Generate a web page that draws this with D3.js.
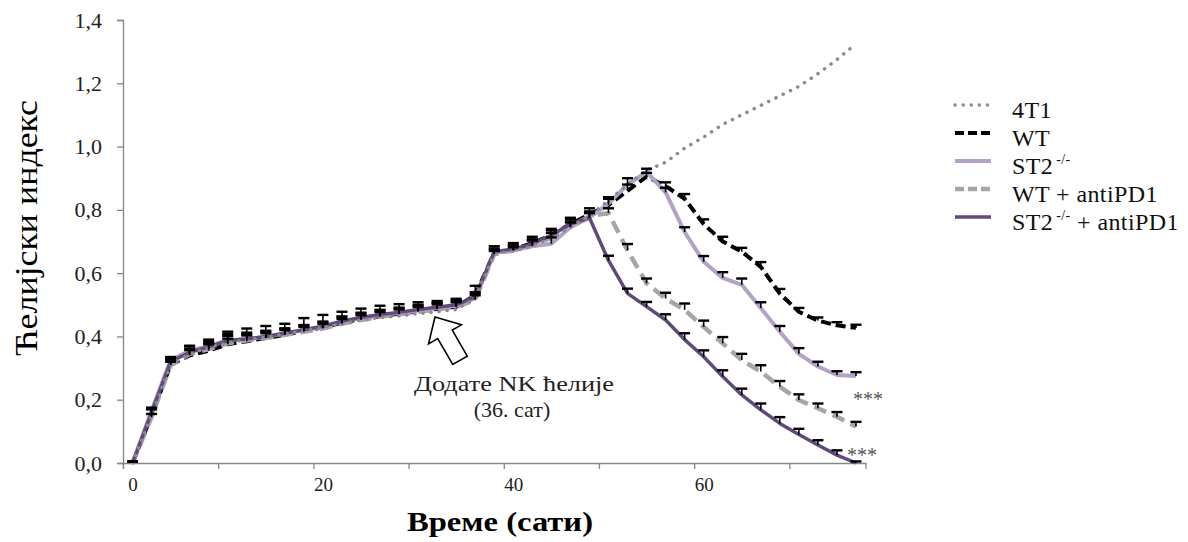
<!DOCTYPE html>
<html>
<head>
<meta charset="utf-8">
<script src="https://cdn.jsdelivr.net/npm/d3@7"></script>
<style>
  body { margin: 0; background: #fff; }
  text { font-family: "Liberation Serif", "DejaVu Serif", serif; }
</style>
</head>
<body>
<svg id="chart" width="1188" height="542"></svg>
<script>
// time points (hours)
var hours = [0, 2, 4, 6, 8, 10, 12, 14, 16, 18, 20, 22, 24, 26, 28, 30, 32, 34, 36, 38,
             40, 42, 44, 46, 48, 50, 52, 54, 56, 58, 60, 62, 64, 66, 68, 70, 72, 74, 76];

// cell index
var t4T1 = [0, 0.15, 0.31, 0.345, 0.365, 0.38, 0.39, 0.398, 0.407, 0.418, 0.428, 0.44, 0.452, 0.46, 0.465, 0.472, 0.478, 0.485, 0.52, 0.66,
            0.67, 0.685, 0.71, 0.745, 0.78, 0.83, 0.88, 0.925, 0.95, 0.995, 1.03, 1.07, 1.10, 1.13, 1.16, 1.19, 1.23, 1.275, 1.325];

var wt = [0, 0.15, 0.31, 0.34, 0.355, 0.375, 0.385, 0.395, 0.405, 0.418, 0.428, 0.443, 0.455, 0.464, 0.472, 0.48, 0.487, 0.494, 0.53, 0.665,
          0.675, 0.695, 0.72, 0.755, 0.785, 0.815, 0.86, 0.905, 0.875, 0.835, 0.755, 0.70, 0.668, 0.62, 0.535, 0.478, 0.45, 0.435, 0.427];
var wtErr = [0.005, 0.02, 0.015, 0.03, 0.035, 0.04, 0.04, 0.038, 0.035, 0.04, 0.04, 0.035, 0.033, 0.033, 0.03, 0.028, 0.025, 0.025, 0.03, 0.02,
             0.02, 0.02, 0.02, 0.02, 0.02, 0.02, 0.02, 0.012, 0.012, 0.015, 0.015, 0.015, 0.012, 0.015, 0.015, 0.012, 0.01, 0.01, 0.01];

var st2 = [0, 0.165, 0.325, 0.355, 0.37, 0.388, 0.392, 0.398, 0.41, 0.42, 0.43, 0.447, 0.458, 0.467, 0.474, 0.482, 0.49, 0.497, 0.52, 0.665,
           0.672, 0.685, 0.693, 0.745, 0.775, 0.82, 0.88, 0.92, 0.855, 0.73, 0.636, 0.585, 0.563, 0.49, 0.415, 0.345, 0.305, 0.278, 0.275];
var st2Err = [0.005, 0.01, 0.01, 0.015, 0.015, 0.02, 0.02, 0.02, 0.015, 0.015, 0.015, 0.015, 0.015, 0.015, 0.015, 0.015, 0.015, 0.015, 0.015, 0.01,
              0.015, 0.02, 0.02, 0.015, 0.015, 0.02, 0.02, 0.01, 0.015, 0.015, 0.018, 0.018, 0.02, 0.018, 0.018, 0.018, 0.015, 0.012, 0.012];

var wtAnti = [0, 0.145, 0.31, 0.345, 0.36, 0.378, 0.388, 0.395, 0.405, 0.415, 0.425, 0.44, 0.452, 0.462, 0.47, 0.478, 0.486, 0.493, 0.515, 0.66,
              0.672, 0.688, 0.712, 0.748, 0.78, 0.79, 0.672, 0.568, 0.52, 0.484, 0.43, 0.378, 0.325, 0.289, 0.241, 0.199, 0.173, 0.146, 0.115];
var wtAntiErr = [0.005, 0.01, 0.01, 0.012, 0.015, 0.015, 0.015, 0.015, 0.015, 0.015, 0.015, 0.015, 0.015, 0.015, 0.015, 0.015, 0.015, 0.015, 0.015, 0.01,
                 0.01, 0.015, 0.015, 0.015, 0.015, 0.015, 0.02, 0.015, 0.018, 0.02, 0.02, 0.02, 0.02, 0.02, 0.018, 0.018, 0.015, 0.015, 0.015];

var st2Anti = [0, 0.16, 0.32, 0.35, 0.367, 0.387, 0.392, 0.4, 0.41, 0.421, 0.432, 0.448, 0.46, 0.469, 0.476, 0.485, 0.492, 0.5, 0.525, 0.668,
               0.676, 0.692, 0.72, 0.755, 0.775, 0.64, 0.536, 0.494, 0.452, 0.39, 0.336, 0.273, 0.215, 0.168, 0.125, 0.09, 0.057, 0.025, 0];
var st2AntiErr = [0.005, 0.01, 0.01, 0.012, 0.012, 0.015, 0.015, 0.015, 0.015, 0.015, 0.015, 0.015, 0.015, 0.015, 0.015, 0.015, 0.015, 0.015, 0.015, 0.01,
                  0.012, 0.015, 0.015, 0.015, 0.015, 0.015, 0.015, 0.015, 0.018, 0.02, 0.02, 0.02, 0.02, 0.02, 0.02, 0.018, 0.015, 0.015, 0.005];

var yTicks = [0, 0.2, 0.4, 0.6, 0.8, 1.0, 1.2, 1.4];
var xLabels = [0, 20, 40, 60];
var xTickMarks = [-1, 9, 19, 29, 39, 49, 59, 69];
var legendLabels = ["4T1", "WT", "ST2-/-", "WT + antiPD1", "ST2-/- + antiPD1"];

var svg = d3.select("#chart");

var x = d3.scaleLinear().domain([-1, 77]).range([123, 865.5]);
var y = d3.scaleLinear().domain([0, 1.4]).range([463, 20]);

// series, drawn in this order (last on top)
var series = [
    { name: "WT", v: wt, err: wtErr, color: "#000", width: 4, dash: "10 5" },
    { name: "WT + antiPD1", v: wtAnti, err: wtAntiErr, color: "#a6a6a6", width: 4.5, dash: "13 7" },
    { name: "ST2-/-", v: st2, err: st2Err, color: "#b3a2c7", width: 4, dash: null },
    { name: "ST2-/- + antiPD1", v: st2Anti, err: st2AntiErr, color: "#604a7b", width: 3.5, dash: null },
    { name: "4T1", v: t4T1, err: null, color: "#8c8c8c", width: 3.5, dash: "0.1 8" }
];

// axes
var yAxis = d3.axisLeft(y).tickValues(yTicks).tickSize(6).tickPadding(15)
    .tickFormat(function(d) { return d3.format(".1f")(d).replace(".", ","); });
var gy = svg.append("g").attr("transform", "translate(123,0)").call(yAxis);
gy.selectAll("text").attr("font-size", 22).attr("fill", "#222")
    .attr("font-family", "Liberation Serif");

var gx = svg.append("g").attr("transform", "translate(0,463)")
    .call(d3.axisBottom(x).tickValues(xTickMarks).tickSize(6).tickFormat(""));
var gxl = svg.append("g").attr("transform", "translate(0,463)")
    .call(d3.axisBottom(x).tickValues(xLabels).tickSize(0).tickPadding(15));
gxl.select(".domain").remove();
gxl.selectAll("text").attr("font-size", 19).attr("fill", "#222")
    .attr("font-family", "'Liberation Sans Narrow', 'DejaVu Sans Condensed', sans-serif");

[gx, gy].forEach(function(g) {
    g.select(".domain").attr("stroke", "#868686").attr("stroke-width", 1.3);
    g.selectAll(".tick line").attr("stroke", "#868686").attr("stroke-width", 1.3);
});

// lines
var line = d3.line()
    .x(function(d, i) { return x(hours[i]); })
    .y(function(d) { return y(d); });

var lines = svg.append("g").attr("class", "lines");
series.forEach(function(s) {
    lines.append("path")
        .datum(s.v)
        .attr("fill", "none")
        .attr("stroke", s.color)
        .attr("stroke-width", s.width)
        .attr("stroke-dasharray", s.dash)
        .attr("stroke-linecap", s.name == "4T1" ? "round" : "butt")
        .attr("stroke-linejoin", "round")
        .attr("d", line);
});

// error bars (upper only)
var bars = svg.append("g").attr("class", "errbars").attr("stroke", "#000");
series.filter(function(s) { return s.err; }).forEach(function(s) {
    var g = bars.append("g");
    var pts = s.v.map(function(v, i) { return { t: hours[i], v: v, e: s.err[i] }; });
    g.selectAll("line.stem").data(pts).enter().append("line")
        .attr("class", "stem")
        .attr("x1", function(d) { return x(d.t); })
        .attr("x2", function(d) { return x(d.t); })
        .attr("y1", function(d) { return y(d.v); })
        .attr("y2", function(d) { return y(d.v + d.e); })
        .attr("stroke-width", 1.6);
    g.selectAll("line.cap").data(pts).enter().append("line")
        .attr("class", "cap")
        .attr("x1", function(d) { return x(d.t) - 5.5; })
        .attr("x2", function(d) { return x(d.t) + 5.5; })
        .attr("y1", function(d) { return y(d.v + d.e); })
        .attr("y2", function(d) { return y(d.v + d.e); })
        .attr("stroke-width", 2.4);
});

// axis titles
svg.append("text")
    .attr("transform", "translate(26,228) rotate(-90)")
    .attr("text-anchor", "middle")
    .attr("dominant-baseline", "central")
    .attr("font-size", 31)
    .attr("textLength", 256)
    .attr("lengthAdjust", "spacingAndGlyphs")
    .text("Ћелијски индекс");

svg.append("text")
    .attr("x", 500).attr("y", 531)
    .attr("text-anchor", "middle")
    .attr("font-size", 27)
    .attr("font-weight", "bold")
    .attr("font-family", "'Liberation Sans Narrow', 'DejaVu Sans Condensed', sans-serif")
    .attr("textLength", 186)
    .attr("lengthAdjust", "spacingAndGlyphs")
    .text("Време (сати)");

// annotation: arrow + note
svg.append("polygon")
    .attr("points", "0,0 19,20 8.4,20 8.4,50 -8.4,50 -8.4,20 -19,20")
    .attr("transform", "translate(435,317) rotate(-30)")
    .attr("fill", "#fff")
    .attr("stroke", "#000")
    .attr("stroke-width", 1.6)
    .attr("stroke-linejoin", "miter");

svg.append("text")
    .attr("x", 514).attr("y", 391)
    .attr("text-anchor", "middle")
    .attr("font-size", 22)
    .attr("fill", "#222")
    .attr("textLength", 200)
    .attr("lengthAdjust", "spacingAndGlyphs")
    .text("Додате NK ћелије");
svg.append("text")
    .attr("x", 512).attr("y", 417)
    .attr("text-anchor", "middle")
    .attr("font-size", 22)
    .attr("fill", "#222")
    .text("(36. сат)");

// significance marks
svg.append("text").attr("x", 868).attr("y", 406).attr("text-anchor", "middle")
    .attr("font-size", 20).attr("fill", "#555").text("***");
svg.append("text").attr("x", 862).attr("y", 462).attr("text-anchor", "middle")
    .attr("font-size", 20).attr("fill", "#555").text("***");

// legend
var legendOrder = ["4T1", "WT", "ST2-/-", "WT + antiPD1", "ST2-/- + antiPD1"];
var legend = svg.append("g").attr("class", "legend");
legendLabels.forEach(function(lab, i) {
    var s = series.filter(function(d) { return d.name == legendOrder[i]; })[0];
    var ly = 105 + i * 28;
    legend.append("line")
        .attr("x1", 955).attr("x2", 991)
        .attr("y1", ly).attr("y2", ly)
        .attr("stroke", s.color)
        .attr("stroke-width", s.width)
        .attr("stroke-dasharray", s.name == "WT" || s.name == "WT + antiPD1" ? "9 4" : s.dash)
        .attr("stroke-linecap", s.name == "4T1" ? "round" : "butt");
    var t = legend.append("text")
        .attr("x", 1012).attr("y", ly + 13)
        .attr("font-size", 24)
        .attr("letter-spacing", 0.4)
        .attr("fill", "#111");
    var parts = lab.split("-/-");
    t.append("tspan").text(parts[0]);
    if (parts.length > 1) {
        t.append("tspan").attr("font-size", 14).attr("dy", -10).attr("dx", 3).text("-/-");
        t.append("tspan").attr("dy", 10).text(parts[1]);
    }
});
</script>
</body>
</html>
